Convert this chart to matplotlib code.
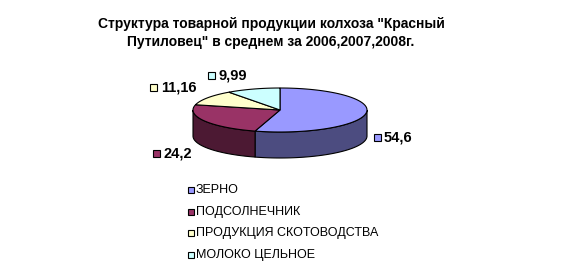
import numpy as np
import matplotlib.pyplot as plt
from matplotlib.patches import Polygon, Rectangle

plt.rcParams['font.family'] = ['Liberation Sans', 'DejaVu Sans']

# data
categories = ['ЗЕРНО', 'ПОДСОЛНЕЧНИК', 'ПРОДУКЦИЯ СКОТОВОДСТВА', 'МОЛОКО ЦЕЛЬНОЕ']
values = [54.6, 24.2, 11.16, 9.99]
value_labels = ['54,6', '24,2', '11,16', '9,99']
top_colors = ['#9999FF', '#993366', '#FFFFCC', '#CCFFFF']
side_colors = ['#4C4C80', '#4C1933', '#808066', '#668080']

title = 'Структура товарной продукции колхоза "Красный\nПутиловец" в среднем за 2006,2007,2008г.'

# pie geometry in pixel coords
cx, cy = 280, 110
rx, ry = 87, 22
depth = 26

fig = plt.figure(figsize=(5.66, 2.75), dpi=100)
ax = fig.add_axes([0, 0, 1, 1])
ax.set_xlim(0, 566)
ax.set_ylim(275, 0)
ax.axis('off')


def rim(theta, dy=0):
    t = np.radians(theta)
    return np.column_stack([cx + rx * np.sin(t), cy - ry * np.cos(t) + dy])


# angles clockwise from 12 o'clock
total = sum(values)
edges = np.concatenate([[0], np.cumsum(values) / total * 360])

# side walls (front half only)
for i in range(len(values)):
    a1 = max(edges[i], 90)
    a2 = min(edges[i + 1], 270)
    if a2 <= a1:
        continue
    th = np.linspace(a1, a2, 60)
    pts = np.vstack([rim(th), rim(th[::-1], depth)])
    ax.add_patch(Polygon(pts, closed=True, facecolor=side_colors[i],
                         edgecolor='black', lw=0.8))

# top wedges
for i in range(len(values)):
    th = np.linspace(edges[i], edges[i + 1], 80)
    pts = np.vstack([[cx, cy], rim(th)])
    ax.add_patch(Polygon(pts, closed=True, facecolor=top_colors[i],
                         edgecolor='black', lw=0.8))

# value labels with key squares
label_offsets = [(11, 24), (-48, 33), (-54, -10), (-42, -14)]
for i in range(len(values)):
    mid = (edges[i] + edges[i + 1]) / 2
    px, py = rim(mid)[0]
    lx, ly = px + label_offsets[i][0], py + label_offsets[i][1]
    ax.add_patch(Rectangle((lx - 3.5, ly - 3.5), 7, 7, facecolor=top_colors[i],
                           edgecolor='black', lw=0.8))
    ax.text(lx + 7, ly, value_labels[i], fontsize=10.5, fontweight='bold',
            va='center', ha='left')

# legend
for i, name in enumerate(categories):
    y = 190 + i * 21.7
    ax.add_patch(Rectangle((188, y - 3), 6, 6, facecolor=top_colors[i],
                           edgecolor='black', lw=0.8))
    ax.text(196, y, name, fontsize=9, va='center', ha='left')

ax.text(271, 33, title, fontsize=10, fontweight='bold', ha='center',
        va='center', linespacing=1.45)

fig.savefig('out.png', dpi=100)
